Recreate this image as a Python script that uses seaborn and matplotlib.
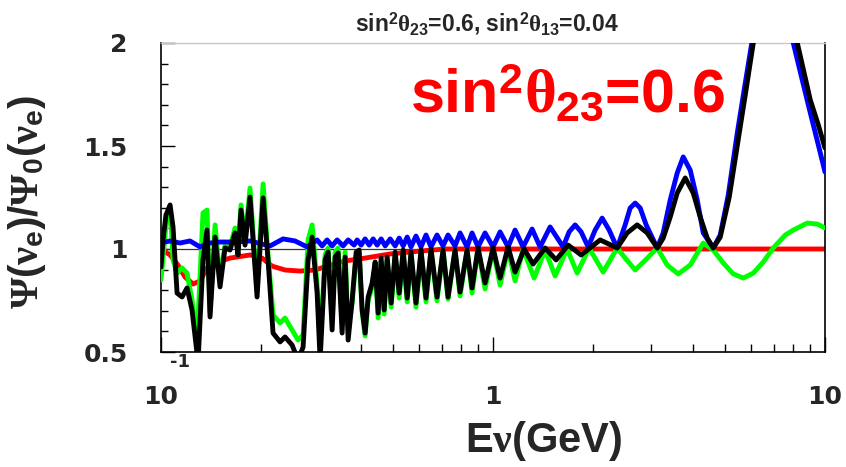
import matplotlib
matplotlib.use("Agg")
import matplotlib.pyplot as plt
import seaborn as sns
import pandas as pd
from matplotlib.ticker import FixedLocator, LogLocator, NullFormatter, MultipleLocator

# ---------------- data (E in GeV, ratio) ----------------
red_pts = [(0.1000,1.0),(0.1065,0.971),(0.1125,0.922),(0.1181,0.864),(0.1249,0.830),(0.1311,0.845),
           (0.1376,0.908),(0.1455,0.932),(0.1614,0.956),(0.1854,0.971),(0.2016,0.956),(0.2160,0.917),
           (0.2364,0.898),(0.2624,0.893),(0.2912,0.898),(0.3231,0.922),(0.3586,0.942),(0.4120,0.956),
           (0.4901,0.976),(0.6028,0.990),(0.7170,1.0),(1.0,1.0),(3.0,1.0),(10.0,1.0)]

green_pts = [(0.1000,0.850),(0.1035,1.117),(0.1065,1.204),(0.1087,0.947),(0.1118,0.883),(0.1157,0.908),
             (0.1198,0.883),(0.1240,0.752),(0.1284,0.558),(0.1338,1.175),(0.1376,1.189),(0.1405,0.694),
             (0.1455,1.117),(0.1506,0.850),(0.1559,1.019),(0.1614,1.010),(0.1671,1.102),(0.1706,0.995),
             (0.1742,1.214),(0.1791,1.044),(0.1854,1.296),(0.1947,0.801),(0.2030,1.316),(0.2101,0.971),
             (0.2175,0.680),(0.2284,0.641),(0.2364,0.665),(0.2482,0.607),(0.2588,0.558),(0.2679,0.583),
             (0.2774,1.044),(0.2852,1.117),(0.2953,0.825),(0.3015,0.534),(0.3121,0.971),(0.3187,1.005),
             (0.3277,0.646),(0.3346,0.985),(0.3416,1.005),(0.3512,0.631),(0.3586,0.985),(0.3662,0.607),
             (0.3765,0.738),(0.3871,0.971),(0.3952,0.981),(0.4035,0.694),(0.4120,0.578),(0.4207,0.752),
             (0.4325,0.816),(0.4416,0.922),(0.4509,0.665),(0.4604,0.937),(0.4701,0.684),(0.4800,0.947),
             (0.4935,0.718),(0.5074,0.971),(0.5217,0.762),(0.5364,0.981),(0.5515,0.743),(0.5663,0.976),
             (0.5862,0.718),(0.6070,0.985),(0.6284,0.743),(0.6506,0.995),(0.6783,0.748),(0.7071,0.995),
             (0.7321,0.757),(0.7685,0.995),(0.7957,0.772),(0.8353,0.995),(0.8648,0.786),(0.9015,1.0),
             (0.9464,0.806),(1.0004,1.0),(1.0503,0.825),(1.1103,1.0),(1.1655,0.845),(1.2321,1.0),
             (1.3299,0.859),(1.4354,0.995),(1.5385,0.869),(1.6721,1.0),(1.7923,0.883),(1.9479,1.005),
             (2.1467,0.888),(2.3659,1.005),(2.5183,0.950),(2.6807,0.898),(2.8934,0.950),(3.1231,1.005),
             (3.3475,0.922),(3.6131,0.879),(3.9270,0.922),(4.2976,1.029),(4.6066,0.995),(4.9377,0.932),
             (5.2926,0.879),(5.6731,0.859),(6.0809,0.883),(6.5179,0.937),(6.9864,1.005),(7.5933,1.068),
             (8.0268,1.092),(8.8464,1.126),(9.4822,1.121),(10.0,1.102)]

blue_pts = [(0.1000,1.029),(0.1065,1.039),(0.1141,1.029),(0.1223,1.039),(0.1311,1.010),(0.1405,1.029),
            (0.1506,1.034),(0.1671,1.034),(0.1854,1.039),(0.2016,1.024),(0.2131,1.015),(0.2332,1.049),
            (0.2534,1.039),(0.2755,1.010),(0.2953,1.044),(0.3057,1.015),(0.3165,1.044),(0.3277,1.015),
            (0.3392,1.044),(0.3537,1.015),(0.3662,1.044),(0.3817,1.019),(0.3898,1.044),(0.4007,1.019),
            (0.4120,1.049),(0.4236,1.019),(0.4355,1.049),(0.4478,1.019),(0.4604,1.049),(0.4734,1.015),
            (0.4901,1.049),(0.5074,1.015),(0.5217,1.053),(0.5364,1.015),(0.5515,1.058),(0.5663,1.010),
            (0.5862,1.063),(0.6070,1.010),(0.6284,1.068),(0.6506,1.010),(0.6783,1.068),(0.7071,1.015),
            (0.7321,1.068),(0.7685,1.015),(0.7957,1.078),(0.8353,1.010),(0.8648,1.078),(0.9015,1.010),
            (0.9464,1.078),(1.0004,1.010),(1.0503,1.083),(1.1103,1.010),(1.1655,1.092),(1.2321,1.010),
            (1.3115,1.097),(1.3864,1.010),(1.4860,1.107),(1.6263,1.010),(1.6954,1.083),(1.7676,1.117),
            (1.8427,1.083),(1.9345,1.010),(2.0307,1.092),(2.1319,1.150),(2.2379,1.092),(2.3659,1.005),
            (2.5009,1.117),(2.5893,1.199),(2.6807,1.223),(2.7754,1.199),(2.8934,1.117),(3.1231,1.005),
            (3.2557,1.078),(3.4179,1.238),(3.5881,1.369),(3.7406,1.447),(3.9270,1.383),(4.1226,1.238),
            (4.2976,1.078),(4.6066,1.005),(4.8361,1.068),(5.1122,1.262),(5.4418,1.563),(5.7524,1.806),
            (6.0389,2.015),(6.3838,2.22),(6.9381,2.40),(7.5409,2.25),(8.0268,2.000),(8.4267,1.859),
            (9.0324,1.660),(9.548,1.505),(10.0,1.374)]

black_pts = [(0.1000,0.913),(0.1014,1.044),(0.1035,1.165),(0.1065,1.214),(0.1087,1.107),(0.1118,0.786),
             (0.1157,0.767),(0.1198,0.811),(0.1240,0.704),(0.1293,0.45),(0.1338,0.947),(0.1376,1.092),
             (0.1405,0.670),(0.1455,1.058),(0.1506,0.816),(0.1559,1.005),(0.1614,0.995),(0.1671,1.078),
             (0.1706,0.971),(0.1742,1.189),(0.1791,1.019),(0.1854,1.252),(0.1947,0.767),(0.2030,1.248),
             (0.2101,0.947),(0.2175,0.592),(0.2284,0.549),(0.2364,0.573),(0.2482,0.534),(0.2588,0.46),
             (0.2679,0.524),(0.2774,0.947),(0.2852,1.058),(0.2953,0.786),(0.3015,0.46),(0.3121,0.947),
             (0.3187,0.985),(0.3277,0.607),(0.3346,0.961),(0.3416,0.981),(0.3512,0.592),(0.3586,0.961),
             (0.3662,0.558),(0.3765,0.752),(0.3871,0.985),(0.3952,0.995),(0.4035,0.704),(0.4120,0.592),
             (0.4207,0.767),(0.4325,0.835),(0.4416,0.937),(0.4509,0.689),(0.4604,0.956),(0.4701,0.704),
             (0.4800,0.961),(0.4935,0.738),(0.5074,0.985),(0.5217,0.786),(0.5364,0.995),(0.5515,0.762),
             (0.5663,0.985),(0.5862,0.738),(0.6070,0.995),(0.6284,0.762),(0.6506,1.0),(0.6783,0.767),
             (0.7071,0.995),(0.7321,0.767),(0.7685,0.995),(0.7957,0.791),(0.8353,0.995),(0.8648,0.811),
             (0.9015,1.005),(0.9464,0.835),(1.0004,1.005),(1.0503,0.859),(1.1103,1.010),(1.1655,0.888),
             (1.2407,1.0),(1.3206,0.927),(1.4354,1.005),(1.5492,0.947),(1.6838,1.019),(1.8427,0.971),
             (2.1025,1.044),(2.3659,1.005),(2.5359,1.078),(2.7183,1.117),(2.9136,1.078),(3.1231,1.005),
             (3.2557,1.053),(3.4179,1.155),(3.5881,1.272),(3.7929,1.345),(4.0095,1.272),(4.2092,1.155),
             (4.4188,1.053),(4.6066,1.005),(4.8361,1.058),(5.1476,1.252),(5.5175,1.563),(5.7524,1.748),
             (6.0809,2.0),(6.4729,2.22),(7.0356,2.40),(7.6461,2.25),(8.2531,2.0),(9.0324,1.723),
             (9.548,1.602),(10.0,1.490)]

x_ticks = [0.1, 1, 10]
x_ticklabels = ["10", "1", "10"]
y_ticks = [0.5, 1.0, 1.5, 2.0]
y_ticklabels = ["0.5", "1", "1.5", "2"]

title_text = r"sin$^{\mathrm{2}}\theta_{\mathrm{23}}$=0.6, sin$^{\mathrm{2}}\theta_{\mathrm{13}}$=0.04"
big_text = r"sin$^{\mathrm{2}}\theta_{\mathrm{23}}$=0.6"
x_label = r"E$\nu$(GeV)"
y_label = r"$\mathsf{\Psi}(\nu_{\mathrm{e}})/\mathsf{\Psi}_{\mathrm{0}}(\nu_{\mathrm{e}})$"

# ---------------- style ----------------
sns.set_style("ticks")
plt.rcParams.update({
    "font.family": ["Liberation Sans", "DejaVu Sans"],
    "font.weight": "bold",
    "mathtext.fontset": "custom",
    "mathtext.rm": "Liberation Sans:bold",
    "mathtext.bf": "Liberation Sans:bold",
    "mathtext.it": "Liberation Serif:bold",
    "mathtext.sf": "Liberation Serif:bold",
})

W, H = 846, 467
fig = plt.figure(figsize=(W / 100, H / 100), dpi=100)
ax = fig.add_axes([161 / W, 1 - 352 / H, 664 / W, 309 / H])

ax.axhline(1.0, color="#333333", lw=0.9, zorder=1)

curves = [(red_pts, "#ff0000"), (green_pts, "#00ff00"), (blue_pts, "#0000ff"), (black_pts, "#000000")]
for i, (pts, col) in enumerate(curves):
    df = pd.DataFrame(pts, columns=["E", "r"])
    sns.lineplot(data=df, x="E", y="r", color=col, lw=3.5, ax=ax, estimator=None,
                 sort=False, zorder=2 + i, solid_joinstyle="round", solid_capstyle="round")

ax.set_xscale("log")
ax.set_xlim(0.1, 10)
ax.set_ylim(0.5, 2.0)
ax.set_xlabel("")
ax.set_ylabel("")

ax.xaxis.set_major_locator(FixedLocator(x_ticks))
ax.set_xticklabels(x_ticklabels)
ax.xaxis.set_minor_locator(LogLocator(base=10, subs=range(2, 10)))
ax.xaxis.set_minor_formatter(NullFormatter())
ax.yaxis.set_major_locator(FixedLocator(y_ticks))
ax.set_yticklabels(y_ticklabels)
ax.yaxis.set_minor_locator(MultipleLocator(0.1))

ax.tick_params(which="both", direction="in", top=False, right=False, width=1, color="black")
ax.tick_params(axis="x", which="major", length=11, pad=24)
ax.tick_params(axis="x", which="minor", length=6)
ax.tick_params(axis="y", which="major", length=10, pad=24)
ax.tick_params(axis="y", which="minor", length=5)
for lbl in ax.get_xticklabels() + ax.get_yticklabels():
    lbl.set_fontfamily("DejaVu Sans")
    lbl.set_fontweight("bold")
    lbl.set_fontsize(18)

for s in ["left", "bottom", "right"]:
    ax.spines[s].set_color("black")
    ax.spines[s].set_linewidth(1.2)
ax.spines["top"].set_color("#c8c8c8")
ax.spines["top"].set_linewidth(1.0)

fig.text(180 / W, 1 - 362 / H, "-1", ha="center", va="center", fontsize=13,
         fontweight="bold", family="DejaVu Sans")
fig.text(487 / W, 1 - 31 / H, title_text, ha="center", va="baseline", fontsize=16.5, fontweight="bold")
fig.text(410 / W, 1 - 113 / H, big_text, ha="left", va="baseline", fontsize=44,
         fontweight="bold", color="#ff0000")
fig.text(544 / W, 1 - 441 / H, x_label, ha="center", va="center", fontsize=30, fontweight="bold")
fig.text(27 / W, 1 - 202 / H, y_label, ha="center", va="center", rotation=90, fontsize=29)

fig.savefig("out.png", dpi=100)
